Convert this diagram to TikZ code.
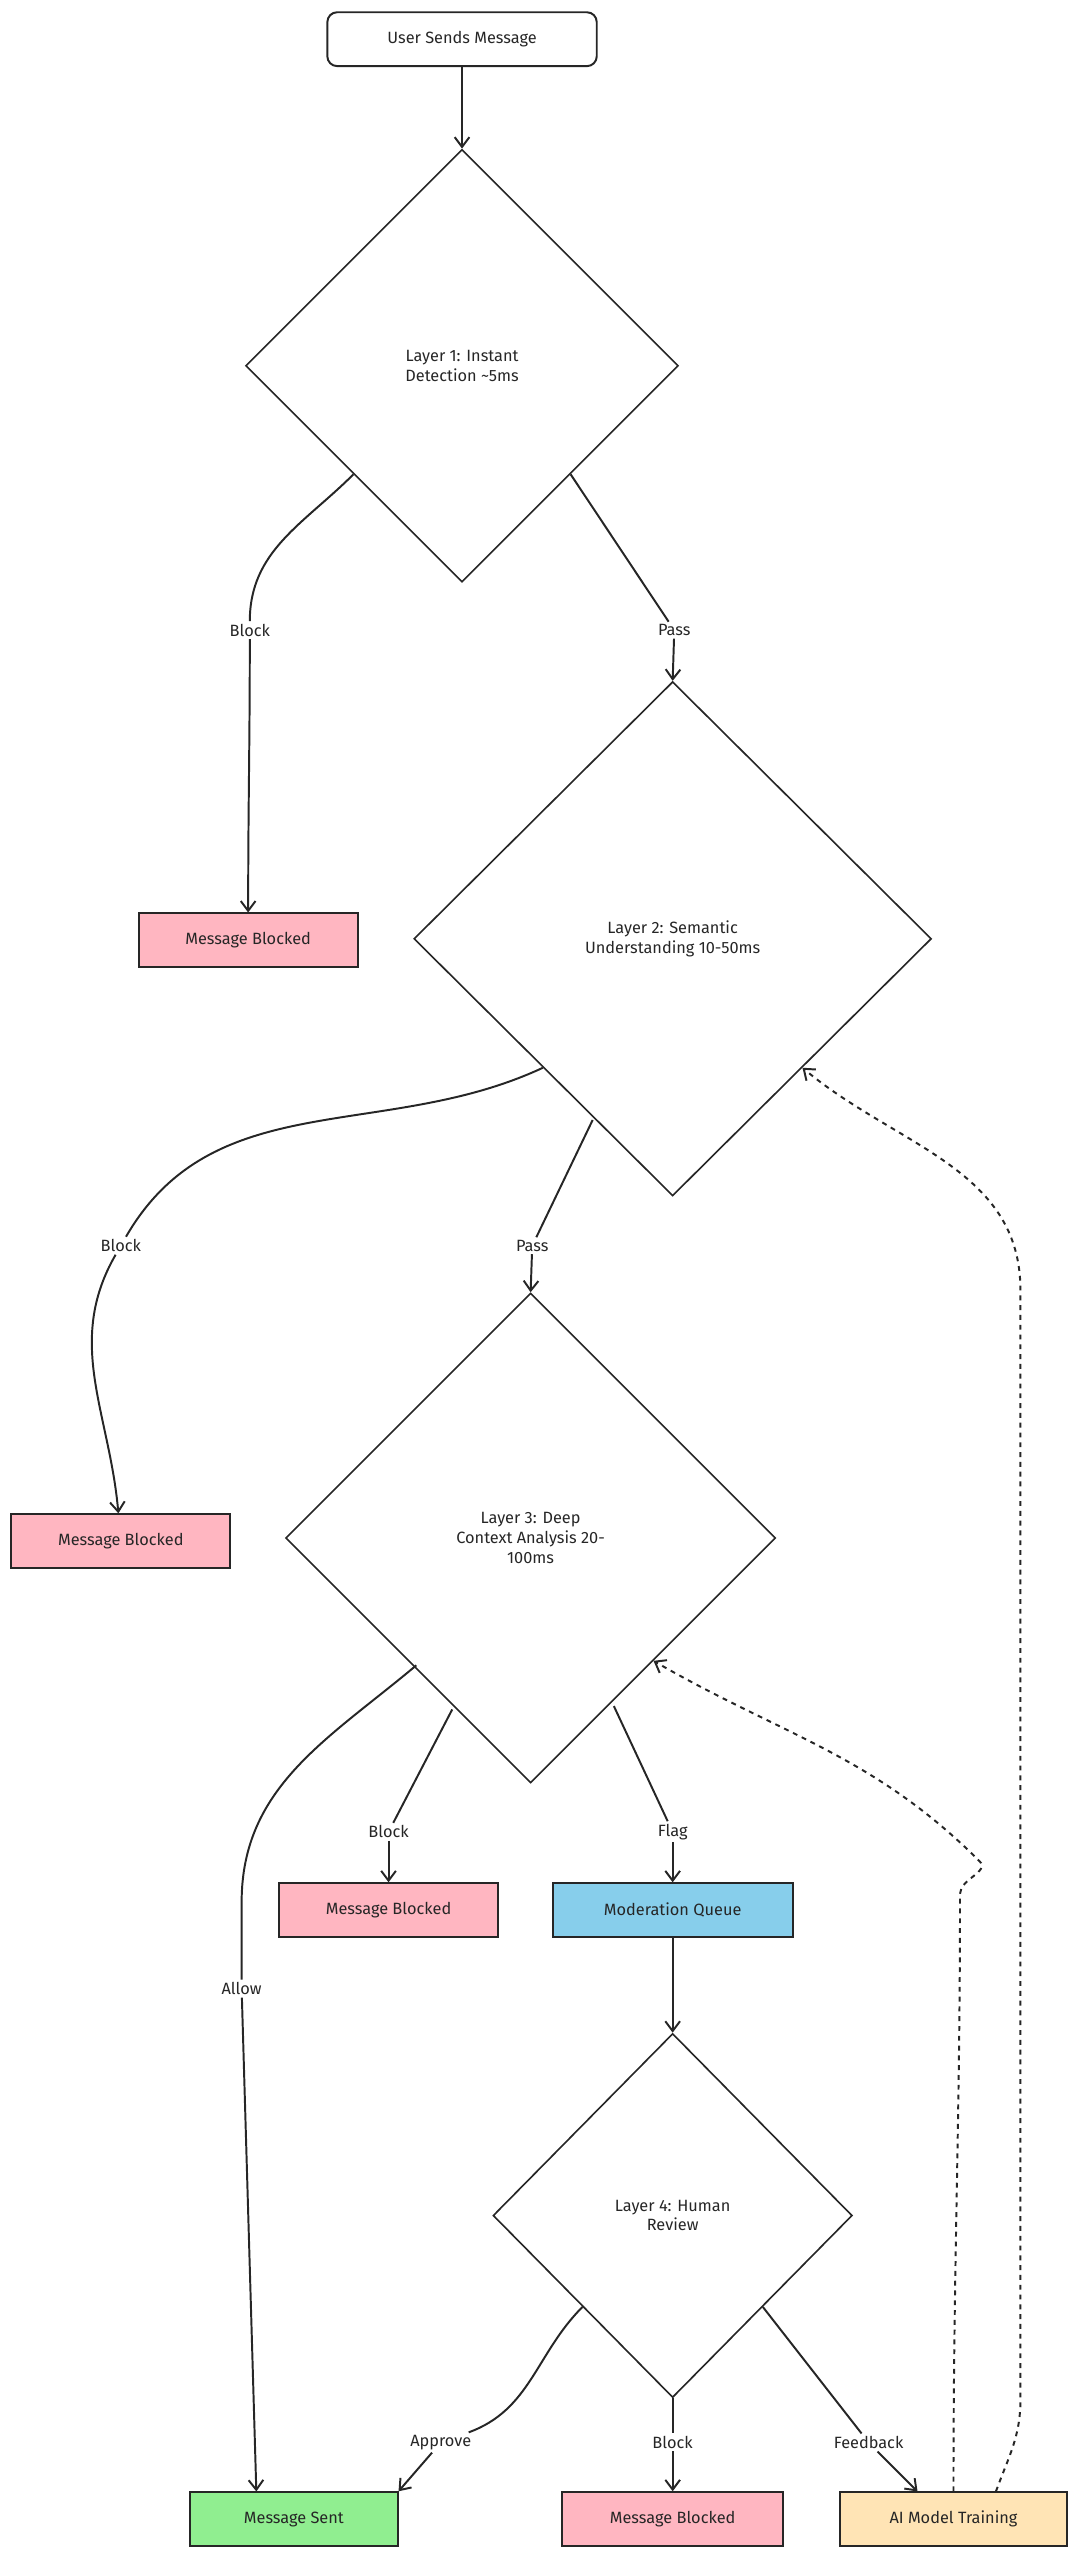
\documentclass[tikz,border=0pt]{standalone}
\usepackage{fontspec}
\setmainfont{Fira Sans}
\usetikzlibrary{shapes.geometric,arrows.meta}
\definecolor{blockpink}{HTML}{FFB6C1}
\definecolor{queueblue}{HTML}{87CEEB}
\definecolor{sentgreen}{HTML}{90EE90}
\definecolor{trainbeige}{HTML}{FFE4B5}
\tikzset{
  box/.style={draw, line width=1.2pt, minimum height=33pt, inner sep=2pt, font=\fontsize{10}{12}\selectfont},
  decide/.style={draw, line width=1pt, shape=diamond, inner sep=0pt, align=center, font=\fontsize{10}{12}\selectfont},
  lbl/.style={fill=white, inner sep=1.5pt, font=\fontsize{10}{12}\selectfont},
  flow/.style={line width=1.2pt, -{Straight Barb[length=6pt,width=9pt]}},
  back/.style={line width=1.2pt, dashed, -{Straight Barb[length=6pt,width=9pt]}}
}
\begin{document}
\begin{tikzpicture}[x=1pt, y=-1pt, color={black!85}]
    \useasboundingbox (0,0) rectangle (657,1568);

    % nodes
    \node [box, rounded corners=6pt, minimum width=165pt] (start) at (283,24) {User Sends Message};
    \node [decide, minimum width=265pt, minimum height=265pt] (d1) at (283,224) {Layer 1: Instant\\Detection \textasciitilde5ms};
    \node [box, fill=blockpink, minimum width=134pt] (mb1) at (152,576) {Message Blocked};
    \node [decide, minimum width=317pt, minimum height=315pt] (d2) at (412,575) {Layer 2: Semantic\\Understanding 10-50ms};
    \node [box, fill=blockpink, minimum width=134pt] (mb2) at (74,944) {Message Blocked};
    \node [decide, minimum width=300pt, minimum height=300pt] (d3) at (325,942) {Layer 3: Deep\\Context Analysis 20-\\100ms};
    \node [box, fill=blockpink, minimum width=134pt] (mb3) at (238,1170) {Message Blocked};
    \node [box, fill=queueblue, minimum width=147pt] (mq) at (412,1170) {Moderation Queue};
    \node [decide, minimum width=220pt, minimum height=223pt] (d4) at (412,1357) {Layer 4: Human\\Review};
    \node [box, fill=sentgreen, minimum width=127pt] (ms) at (180,1543) {Message Sent};
    \node [box, fill=blockpink, minimum width=135pt] (mb4) at (412,1543) {Message Blocked};
    \node [box, fill=trainbeige, minimum width=139pt] (ait) at (584,1543) {AI Model Training};
    \coordinate (msin) at (157,1526);
    \coordinate (aitin) at (562,1526);
    \coordinate (aitout) at (610,1526);

    % labels
    \node [lbl] (b1) at (153,386) {Block};
    \node [lbl] (p1) at (413,386) {Pass};
    \node [lbl] (b2) at (74,763) {Block};
    \node [lbl] (p2) at (326,763) {Pass};
    \node [lbl] (al) at (148,1218) {Allow};
    \node [lbl] (b3) at (238,1122) {Block};
    \node [lbl] (fl) at (412,1122) {Flag};
    \node [lbl] (ap) at (270,1496) {Approve};
    \node [lbl] (b4) at (412,1496) {Block};
    \node [lbl] (fb) at (532,1496) {Feedback};

    % connectors
    \draw [flow] (start) -- (d1);
    \draw [line width=1.2pt] (d1.south west) to [out=-135,in=90] (b1);
    \draw [flow] (b1) to [out=-90,in=90] (mb1);
    \draw [line width=1.2pt] (d1.south east) -- (p1);
    \draw [flow] (p1) -- (d2.north);
    \draw [line width=1.2pt] (d2.south west) to [out=-155,in=60] (b2);
    \draw [flow] (b2) to [out=-120,in=95] (mb2);
    \draw [line width=1.2pt] (363,686) -- (p2);
    \draw [flow] (p2) -- (d3.north);
    \draw [line width=1.2pt] (255,1020) to [out=-140,in=90] (148,1165) -- (al);
    \draw [flow] (al) -- (msin);
    \draw [line width=1.2pt] (277,1047) -- (b3);
    \draw [flow] (b3) -- (mb3);
    \draw [line width=1.2pt] (376,1045) -- (fl);
    \draw [flow] (fl) -- (mq);
    \draw [flow] (mq) -- (d4.north);
    \draw [line width=1.2pt] (d4.south west) to [out=-135,in=20] (ap);
    \draw [flow] (ap) -- (ms.north east);
    \draw [line width=1.2pt] (d4.south) -- (b4);
    \draw [flow] (b4) -- (mb4);
    \draw [line width=1.2pt] (d4.south east) -- (fb);
    \draw [flow] (fb) -- (aitin);
    \draw [back] (ait.north) to [out=90,in=-90] (588,1160) to [out=90,in=-45] (600,1140) to [out=135,in=-30] (d3.south east);
    \draw [back] (aitout) to [out=70,in=-90] (625,1470) -- (625,790) to [out=90,in=-40] (d2.south east);
\end{tikzpicture}
\end{document}
